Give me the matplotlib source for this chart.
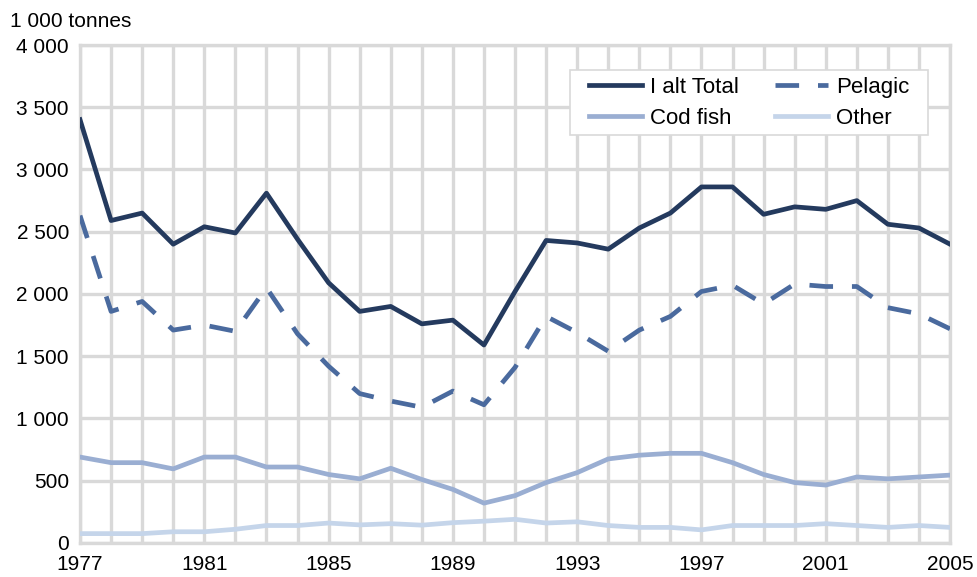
import matplotlib.pyplot as plt
from matplotlib.path import Path
from matplotlib.ticker import FuncFormatter, MultipleLocator

plt.rcParams["font.family"] = ["Liberation Sans", "DejaVu Sans"]

years = list(range(1977, 2006))
total = [3400, 2590, 2650, 2400, 2540, 2490, 2810, 2440, 2090, 1860,
         1900, 1760, 1790, 1590, 2020, 2430, 2410, 2360, 2530, 2650,
         2860, 2860, 2640, 2700, 2680, 2750, 2560, 2530, 2400]
pelagic = [2630, 1860, 1940, 1710, 1750, 1700, 2050, 1680, 1420, 1200,
           1140, 1090, 1220, 1110, 1410, 1820, 1690, 1540, 1710, 1820,
           2020, 2070, 1920, 2080, 2060, 2060, 1890, 1840, 1720]
cod_fish = [690, 645, 645, 595, 690, 690, 610, 610, 550, 515,
            600, 510, 430, 320, 380, 485, 565, 675, 705, 720,
            720, 645, 550, 485, 465, 530, 515, 530, 545]
other = [75, 75, 75, 90, 90, 110, 140, 140, 160, 145,
         155, 143, 163, 175, 190, 160, 170, 140, 125, 125,
         105, 140, 140, 140, 155, 140, 125, 140, 125]
xticks = list(range(1977, 2006, 4))

grid_col = "#d9d9d9"


def wide_box(x0, y0, width, height, mutation_size):
    # legend frame with more room left/right than top/bottom
    px = 0.56 * mutation_size
    x1, y1 = x0 + width + px, y0 + height
    x0 = x0 - px
    return Path([(x0, y0), (x1, y0), (x1, y1), (x0, y1), (x0, y0)], closed=True)


fig = plt.figure(figsize=(9.77, 5.77), dpi=100)
ax = fig.add_axes([0.0819, 0.059, 0.8905, 0.863])

l_tot, = ax.plot(years, total, color="#243a5e", lw=3.4, label="I alt Total", zorder=5)
l_pel, = ax.plot(years, pelagic, color="#4a6a9e", lw=3.4, ls=(0, (5, 4)), label="Pelagic", zorder=4)
l_cod, = ax.plot(years, cod_fish, color="#9aaed2", lw=3.4, label="Cod fish", zorder=3)
l_oth, = ax.plot(years, other, color="#c5d5ea", lw=3.4, label="Other", zorder=3)

ax.set_xlim(1977, 2005)
ax.set_ylim(0, 4000)
ax.set_xticks(xticks)
ax.xaxis.set_minor_locator(MultipleLocator(1))
ax.yaxis.set_major_locator(MultipleLocator(500))
ax.yaxis.set_major_formatter(FuncFormatter(lambda v, p: f"{int(v):,}".replace(",", " ")))

ax.grid(True, which="both", axis="x", color=grid_col, lw=2.4, zorder=0)
ax.grid(True, which="major", axis="y", color=grid_col, lw=2.4, zorder=0)
ax.set_axisbelow(True)
for s in ax.spines.values():
    s.set_color(grid_col)
    s.set_linewidth(2.4)
ax.tick_params(which="both", length=0, labelsize=15, colors="black")
ax.tick_params(axis="y", pad=8)
ax.tick_params(axis="x", which="major", pad=9)

fig.text(0.01, 0.962, "1 000 tonnes", fontsize=15, va="center", ha="left")

# row-wise order: Total, Pelagic / Cod fish, Other
leg = ax.legend([l_tot, l_cod, l_pel, l_oth], ["I alt Total", "Cod fish", "Pelagic", "Other"],
                loc="upper right", bbox_to_anchor=(0.9605, 0.950), borderaxespad=0,
                ncol=2, fontsize=16, frameon=True, fancybox=False, framealpha=1,
                handlelength=2.4, handletextpad=0.35, columnspacing=1.6,
                borderpad=0.3, labelspacing=0.45)
leg.get_frame().set_boxstyle(wide_box)
leg.get_frame().set_edgecolor(grid_col)
leg.get_frame().set_linewidth(1.2)

fig.savefig("out.png", dpi=100)
